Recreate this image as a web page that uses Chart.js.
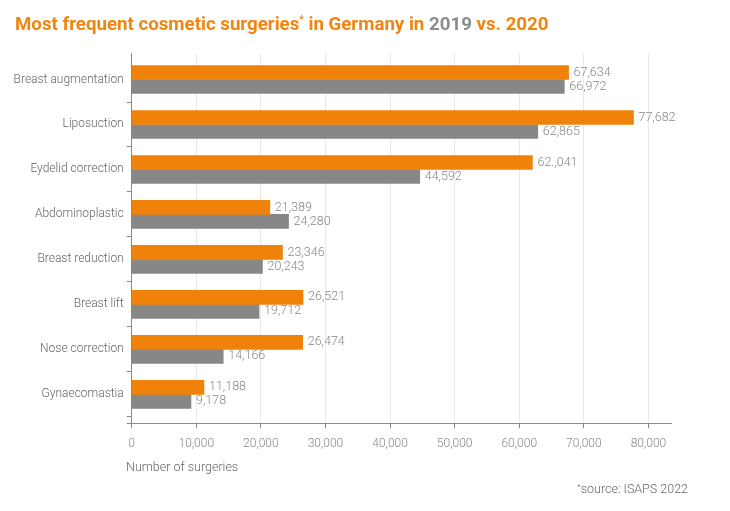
<!DOCTYPE html>
<html>
<head>
<meta charset="utf-8">
<script src="https://cdn.jsdelivr.net/npm/chart.js@4/dist/chart.umd.min.js"></script>
<style>
  html, body { margin: 0; padding: 0; background: #fff; }
  #wrap { position: relative; width: 730px; height: 511px; overflow: hidden; font-family: Roboto, "Noto Sans", sans-serif; }
  #chart { position: absolute; left: 0; top: 0; }
  #title { position: absolute; left: 15px; top: 14px; font-size: 18.7px; line-height: 20px; font-weight: 700; color: #F0860F; white-space: nowrap; }
  #title .g { color: #8C8C8C; }
  #title sup { font-size: 10px; vertical-align: 7px; line-height: 0; }
  #xtitle { position: absolute; left: 126px; top: 459px; font-size: 12.5px; line-height: 16px; font-weight: 300; color: #666; white-space: nowrap; }
  #source { position: absolute; right: 42px; top: 481px; font-size: 12.5px; line-height: 16px; font-weight: 300; color: #666; white-space: nowrap; }
  #source sup { font-size: 8px; vertical-align: 4px; line-height: 0; }
</style>
</head>
<body>
<div id="wrap">
  <canvas id="chart" width="730" height="511"></canvas>
  <div id="title">Most frequent cosmetic surgeries<sup>*</sup> in Germany in <span class="g">2019</span> vs. 2020</div>
  <div id="xtitle">Number of surgeries</div>
  <div id="source"><sup>*</sup>source: ISAPS 2022</div>
</div>
<script>
const categories = ["Breast augmentation", "Liposuction", "Eydelid correction", "Abdominoplastic", "Breast reduction", "Breast lift", "Nose correction", "Gynaecomastia"];
const values2020 = [67634, 77682, 62041, 21389, 23346, 26521, 26474, 11188];
const values2019 = [66972, 62865, 44592, 24280, 20243, 19712, 14166, 9178];
const labels2020 = ["67,634", "77,682", "62.,041", "21,389", "23,346", "26,521", "26,474", "11,188"];
const labels2019 = ["66,972", "62,865", "44,592", "24,280", "20,243", "19,712", "14,166", "9,178"];
const xTicks = [0, 10000, 20000, 30000, 40000, 50000, 60000, 70000, 80000];

const ORANGE = '#F0820A';
const GREY = '#878787';
const AXIS = '#8a8a8a';

class PaddedCategoryScale extends Chart.CategoryScale {
  buildTicks() {
    const ticks = super.buildTicks();
    const padStart = 0.09, padEnd = 0.145;
    this._startValue -= padStart;
    this._valueRange += padStart + padEnd;
    return ticks;
  }
}
PaddedCategoryScale.id = 'paddedCategory';
Chart.register(PaddedCategoryScale);

const valueLabels = {
  id: 'valueLabels',
  afterDatasetsDraw(chart) {
    const ctx = chart.ctx;
    const texts = [labels2020, labels2019];
    ctx.save();
    ctx.font = '300 12.5px Roboto, "Noto Sans", sans-serif';
    ctx.fillStyle = '#888';
    ctx.textAlign = 'left';
    ctx.textBaseline = 'middle';
    chart.data.datasets.forEach((ds, di) => {
      const meta = chart.getDatasetMeta(di);
      meta.data.forEach((bar, i) => {
        ctx.fillText(texts[di][i], bar.x + 5, bar.y);
      });
    });
    ctx.restore();
  },
  afterDraw(chart) {
    const a = chart.chartArea, ctx = chart.ctx;
    ctx.save();
    ctx.strokeStyle = AXIS;
    ctx.lineWidth = 1;
    ctx.beginPath();
    ctx.moveTo(a.left - 5, Math.round(a.bottom) + 0.5);
    ctx.lineTo(a.left, Math.round(a.bottom) + 0.5);
    ctx.stroke();
    ctx.restore();
  }
};

new Chart(document.getElementById('chart'), {
  type: 'bar',
  data: {
    labels: categories,
    datasets: [
      { label: '2020', data: values2020, backgroundColor: ORANGE, barThickness: 14 },
      { label: '2019', data: values2019, backgroundColor: GREY, barThickness: 14 }
    ]
  },
  options: {
    indexAxis: 'y',
    responsive: false,
    animation: false,
    locale: 'en-US',
    layout: { padding: { top: 53, right: 58.3, left: 0, bottom: 0 } },
    plugins: { legend: { display: false }, title: { display: false }, tooltip: { enabled: false } },
    scales: {
      x: {
        type: 'linear',
        min: 0,
        max: 83600,
        afterBuildTicks(scale) { scale.ticks = xTicks.map(v => ({ value: v })); },
        afterFit(scale) { scale.height = 87.7; },
        ticks: {
          callback: v => v.toLocaleString('en-US'),
          color: '#888',
          padding: 8,
          font: { family: 'Roboto', size: 12, weight: 300 }
        },
        grid: { color: '#e8e8e8', tickColor: AXIS, tickLength: 5, drawTicks: true },
        border: { color: AXIS, width: 1 }
      },
      y: {
        type: 'paddedCategory',
        afterFit(scale) { scale.width = 131.7; },
        ticks: {
          color: '#666',
          padding: 3,
          font: { family: 'Roboto', size: 12, weight: 300 }
        },
        grid: {
          drawOnChartArea: false,
          tickLength: 5,
          tickColor: ctx => (ctx.index === 0 || ctx.index >= categories.length) ? 'rgba(0,0,0,0)' : AXIS
        },
        border: { color: AXIS, width: 1, z: 1 }
      }
    }
  },
  plugins: [valueLabels]
});
</script>
</body>
</html>
